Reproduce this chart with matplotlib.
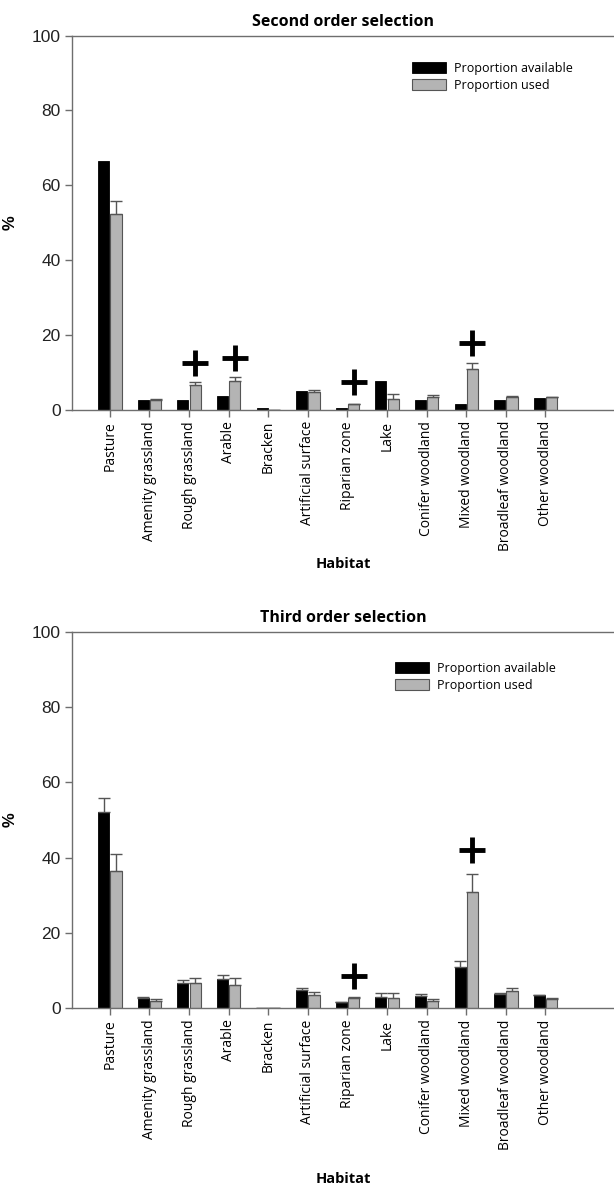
import numpy as np
import matplotlib
matplotlib.use('Agg')
import matplotlib.pyplot as plt

habitats = ['Pasture', 'Amenity grassland', 'Rough grassland', 'Arable', 'Bracken',
            'Artificial surface', 'Riparian zone', 'Lake', 'Conifer woodland',
            'Mixed woodland', 'Broadleaf woodland', 'Other woodland']

# second order selection
avail2 = [66.5, 2.8, 2.6, 3.8, 0.45, 5.0, 0.45, 7.8, 2.7, 1.6, 2.7, 3.2]
used2 = [52.3, 2.6, 6.6, 7.8, 0.1, 4.9, 1.6, 2.9, 3.5, 11.0, 3.5, 3.4]
used2_err = [3.6, 0.3, 1.0, 1.1, 0.0, 0.5, 0.1, 1.3, 0.6, 1.6, 0.3, 0.2]
plus2_idx = [2, 3, 6, 9]
plus2_y = [12.5, 13.8, 7.5, 18.0]

# third order selection
avail3 = [52.0, 2.7, 6.7, 7.9, 0.2, 5.0, 1.6, 3.1, 3.4, 11.0, 3.7, 3.5]
avail3_err = [3.8, 0.4, 0.9, 1.1, 0.0, 0.5, 0.1, 1.1, 0.5, 1.7, 0.3, 0.1]
used3 = [36.5, 2.0, 6.8, 6.2, 0.0, 3.5, 2.7, 2.7, 2.1, 31.0, 4.5, 2.6]
used3_err = [4.5, 0.6, 1.4, 2.0, 0.0, 0.8, 0.4, 1.3, 0.4, 4.8, 1.0, 0.3]
plus3_idx = [6, 9]
plus3_y = [8.5, 42.0]

label_font = 'Open Sans'
num_font = 'Liberation Sans'
spine_col = '#6e6e6e'

fig = plt.figure(figsize=(6.14, 11.85), dpi=100)
ax1 = fig.add_axes([0.117, 0.654, 0.883, 0.316])
ax2 = fig.add_axes([0.117, 0.149, 0.883, 0.318])

x = np.arange(len(habitats))
w = 0.28
off = 0.155


def draw(ax, title, avail, used, used_err, avail_err, plus_idx, plus_y,
         leg_x, leg_y, xlab_pad):
    ek = dict(ecolor='#555555', elinewidth=1.0, capsize=4, capthick=1.0)
    if avail_err is not None:
        ax.bar(x - off, avail, w, color='black', edgecolor='black', lw=0.6,
               yerr=[np.zeros(len(avail)), avail_err], error_kw=ek,
               label='Proportion available')
    else:
        ax.bar(x - off, avail, w, color='black', edgecolor='black', lw=0.6,
               label='Proportion available')
    ax.bar(x + off, used, w, color='#b4b4b4', edgecolor='#555555', lw=0.8,
           yerr=[np.zeros(len(used)), used_err], error_kw=ek,
           label='Proportion used')
    ax.plot(x[plus_idx] + off, plus_y, ls='none', marker='+', ms=19, mew=3.5,
            color='black')

    ax.set_xlim(-0.96, 12.73)
    ax.set_ylim(0, 100)
    ax.set_yticks([0, 20, 40, 60, 80, 100])
    ax.set_xticks(x)
    ax.set_xticklabels(habitats, rotation=90, family=label_font, fontsize=10)
    for t in ax.get_yticklabels():
        t.set_family(num_font)
        t.set_fontsize(12.5)
        t.set_color('#222222')
    ax.tick_params(axis='both', direction='out', length=5, width=1,
                   color=spine_col, pad=3)
    ax.spines['right'].set_visible(False)
    for s in ['left', 'bottom', 'top']:
        ax.spines[s].set_color(spine_col)
        ax.spines[s].set_linewidth(1.0)
    ax.set_title(title, family=label_font, fontweight='bold', fontsize=11.5, pad=7)
    ax.set_xlabel('Habitat', family=label_font, fontweight='bold', fontsize=10.5,
                  labelpad=xlab_pad)
    ax.set_ylabel('%', family=num_font, fontweight='bold', fontsize=12)
    ax.yaxis.set_label_coords(-0.1, 0.5)
    ax.legend(loc='upper left', bbox_to_anchor=(leg_x, leg_y), frameon=False,
              prop={'family': label_font, 'size': 9}, handlelength=2.7,
              handleheight=0.95, handletextpad=0.7, labelspacing=0.3,
              borderaxespad=0, borderpad=0)


draw(ax1, 'Second order selection', avail2, used2, used2_err, None,
     plus2_idx, plus2_y, 0.627, 0.93, 4)
draw(ax2, 'Third order selection', avail3, used3, used3_err, avail3_err,
     plus3_idx, plus3_y, 0.596, 0.92, 16)

fig.savefig('out.png', dpi=100)
